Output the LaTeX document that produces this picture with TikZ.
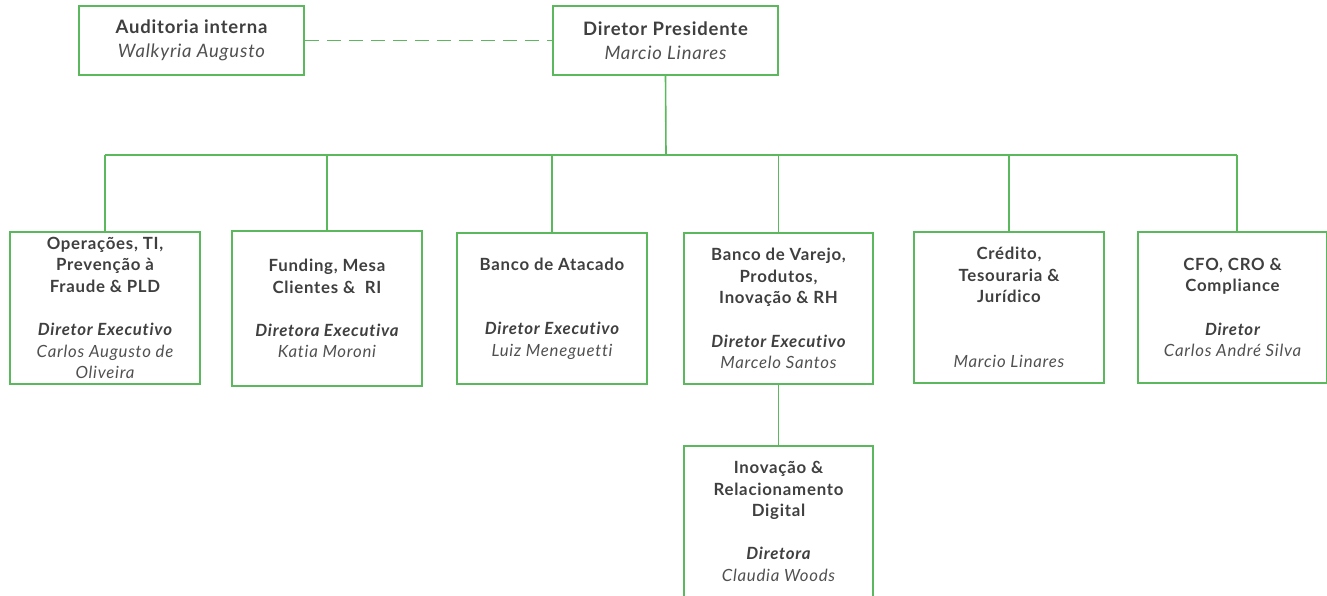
\documentclass[tikz,border=0pt]{standalone}
\usepackage{fontspec}
\setmainfont{Lato}[LetterSpace=4.4,Ligatures=CommonOff]
\definecolor{lg}{HTML}{5CB85C}
\definecolor{tx}{HTML}{3F3F3F}
\definecolor{tn}{HTML}{505050}
\begin{document}
\begin{tikzpicture}[x=1pt,y=-1pt,
  box/.style={draw=lg,line width=1.6pt,rectangle,inner sep=0pt,align=center,text=tx,
    font=\fontsize{16.8}{21.6}\selectfont},
  topbox/.style={draw=lg,line width=1.6pt,rectangle,inner sep=0pt,align=center,text=tx,
    font=\fontsize{18.5}{24}\selectfont},
  link/.style={draw=lg,line width=1.6pt}]
\useasboundingbox (0,0) rectangle (1327,595);
\newcommand{\nm}[1]{{\color{tn}\itshape #1}}
\newcommand{\ti}[1]{{\bfseries #1}}
\newcommand{\rl}[1]{{\bfseries\itshape #1}}
% top row
\node[topbox,minimum width=225,minimum height=69] (aud) at (191.5,40.5)
  {\ti{Auditoria interna}\\\nm{Walkyria Augusto}};
\node[topbox,minimum width=225,minimum height=69] (pres) at (665.5,40.5)
  {\ti{Diretor Presidente}\\\nm{Marcio Linares}};
% second row
\node[box,minimum width=190,minimum height=152] (b1) at (105,308)
  {\ti{Operações, TI,}\\\ti{Prevenção à}\\\ti{Fraude \& PLD}\\[21.6pt]\rl{Diretor Executivo}\\\nm{Carlos Augusto de}\\\nm{Oliveira}};
\node[box,minimum width=190,minimum height=155] (b2) at (327,308.5)
  {\ti{Funding, Mesa}\\\ti{Clientes \&\ \ RI}\\[21.6pt]\rl{Diretora Executiva}\\\nm{Katia Moroni}};
\node[box,minimum width=190,minimum height=151] (b3) at (552,308.5)
  {\ti{Banco de Atacado}\\[43.2pt]\rl{Diretor Executivo}\\\nm{Luiz Meneguetti}};
\node[box,minimum width=189,minimum height=151] (b4) at (778.5,308.5)
  {\ti{Banco de Varejo,}\\\ti{Produtos,}\\\ti{Inovação \& RH}\\[21.6pt]\rl{Diretor Executivo}\\\nm{Marcelo Santos}};
\node[box,minimum width=190,minimum height=151] (b5) at (1009,307.5)
  {\ti{Crédito,}\\\ti{Tesouraria \&}\\\ti{Jurídico}\\[43.2pt]\nm{Marcio Linares}};
\node[box,minimum width=189,minimum height=151] (b6) at (1232.5,307.5)
  {\ti{CFO, CRO \&}\\\ti{Compliance}\\[21.6pt]\rl{Diretor}\\\nm{Carlos André Silva}};
% third row
\node[box,minimum width=189,minimum height=151] (b7) at (778.5,521.5)
  {\ti{Inovação \&}\\\ti{Relacionamento}\\\ti{Digital}\\[21.6pt]\rl{Diretora}\\\nm{Claudia Woods}};
% connectors
\coordinate (bus) at (666,155);
\coordinate (b6top) at ([xshift=4.5pt]b6.north);
\draw[link,dash pattern=on 14pt off 8pt] (aud.east) -- (pres.west);
\draw[link] (pres.south) -- (bus);
\draw[link] (b1.north |- bus) -- (b6top |- bus);
\foreach \b in {b1.north,b2.north,b3.north,b4.north,b5.north,b6top}{\draw[link] (\b |- bus) -- (\b);}
\draw[link] (b4.south) -- (b7.north);
\end{tikzpicture}
\end{document}
